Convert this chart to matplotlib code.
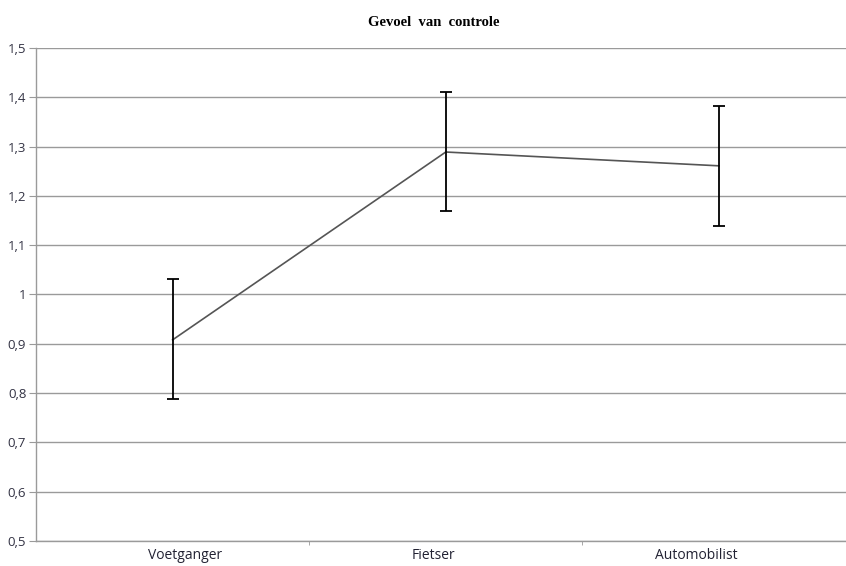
import matplotlib.pyplot as plt
import numpy as np

categories = ['Voetganger', 'Fietser', 'Automobilist']
means = [0.908, 1.289, 1.261]
upper = [1.031, 1.411, 1.382]
lower = [0.787, 1.169, 1.139]
yticks = [0.5, 0.6, 0.7, 0.8, 0.9, 1.0, 1.1, 1.2, 1.3, 1.4, 1.5]

fig = plt.figure(figsize=(8.46, 5.66), dpi=100)
ax = fig.add_axes([0.0426, 0.0442, 0.9686, 0.8710])

x = np.arange(len(categories))
err = [np.array(means) - np.array(lower), np.array(upper) - np.array(means)]

ax.plot(x, means, color='#555555', linewidth=1.2, zorder=3)
ax.errorbar(x, means, yerr=err, fmt='none', ecolor='black', elinewidth=1.3,
            capsize=4, capthick=1.3, zorder=4)

ax.set_xlim(-0.5, 2.5)
ax.set_ylim(0.5, 1.5)
ax.set_yticks(yticks)
ax.set_yticklabels([('%g' % v).replace('.', ',') for v in yticks])
# labels in the original sit slightly off the category centres
ax.set_xticks(x + np.array([0.044, -0.044, -0.081]))
ax.set_xticklabels(categories)
ax.set_xticks([0.5, 1.5], minor=True)

ax.grid(axis='y', color='#9a9a9a', linewidth=1.0)
ax.set_axisbelow(True)
for s in ['top', 'right']:
    ax.spines[s].set_visible(False)
for s in ['left', 'bottom']:
    ax.spines[s].set_color('#9a9a9a')
    ax.spines[s].set_linewidth(1.0)

ax.tick_params(axis='y', length=5, color='#9a9a9a', labelsize=9.5,
               labelcolor='#333344', pad=2)
ax.tick_params(axis='x', which='major', length=0, labelsize=10,
               labelcolor='#222233', pad=5)
ax.tick_params(axis='x', which='minor', length=3, color='#9a9a9a')
for lab in ax.get_xticklabels() + ax.get_yticklabels():
    lab.set_family('Open Sans')

fig.text(0.513, 0.961, 'Gevoel  van  controle', ha='center', va='center',
         fontsize=10.5, fontweight='bold', family='Liberation Serif')

fig.savefig('out.png', dpi=100)
